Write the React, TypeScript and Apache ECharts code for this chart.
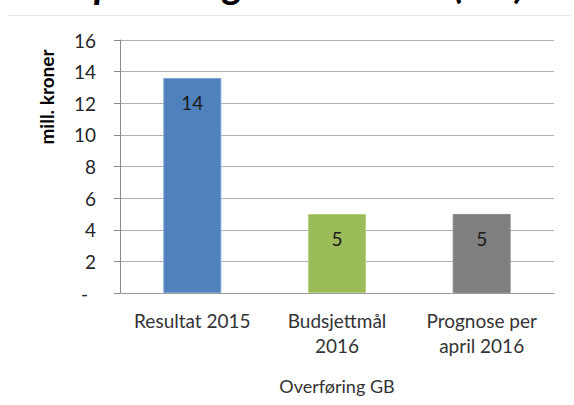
import React, { useEffect, useRef } from "react";
import * as echarts from "echarts";

const categories = ["Resultat 2015", "Budsjettmål\n2016", "Prognose per\napril 2016"];
const values = [13.6, 5, 5];
const barColors = ["#4F81BD", "#9BBB59", "#7F7F7F"];
const barBorders = ["#7FA3D3", "#B5D07E", "#8C8C8C"];
const yTicks = { min: 0, max: 16, interval: 2 };
const titleText = "Disponering i overskudd (GB)";
const yAxisTitle = "mill. kroner";
const xAxisTitle = "Overføring GB";

const FONT = "Lato, 'Open Sans', sans-serif";

export default function App() {
  const ref = useRef<HTMLDivElement>(null);
  useEffect(() => {
    if (!ref.current) return;
    document.body.style.margin = "0";
    const chart = echarts.init(ref.current, undefined, { renderer: "svg" });
    chart.setOption({
      animation: false,
      backgroundColor: "#ffffff",
      textStyle: { fontFamily: FONT },
      grid: { left: 120, right: 20, top: 40, bottom: 112, containLabel: false },
      graphic: [
        {
          type: "line",
          shape: { x1: 9, y1: 15.5, x2: 571, y2: 15.5 },
          style: { stroke: "#e4e4e4", lineWidth: 1 },
        },
        {
          type: "text",
          x: 40,
          y: -17,
          style: {
            text: titleText,
            font: `italic bold 40px ${FONT}`,
            fill: "#000000",
            textVerticalAlign: "middle",
          },
        },
        {
          type: "text",
          x: 46,
          y: 97,
          rotation: Math.PI / 2,
          style: {
            text: yAxisTitle,
            font: `bold 19px ${FONT}`,
            fill: "#000000",
            textAlign: "center",
            textVerticalAlign: "middle",
          },
        },
      ],
      xAxis: {
        type: "category",
        data: categories,
        name: xAxisTitle,
        nameLocation: "middle",
        nameGap: 84,
        nameTextStyle: { fontSize: 18, color: "#333333", fontFamily: FONT },
        axisLine: { lineStyle: { color: "#9a9a9a", width: 1 } },
        axisTick: { show: false },
        axisLabel: {
          interval: 0,
          fontSize: 19,
          color: "#333333",
          lineHeight: 25,
          margin: 15,
          fontFamily: FONT,
        },
      },
      yAxis: {
        type: "value",
        min: yTicks.min,
        max: yTicks.max,
        interval: yTicks.interval,
        axisLine: { show: true, lineStyle: { color: "#8a8a8a", width: 1 } },
        axisTick: { show: true, inside: false, length: 6, lineStyle: { color: "#8a8a8a" } },
        splitLine: { lineStyle: { color: "#b0b0b0", width: 1 } },
        axisLabel: {
          fontSize: 19,
          color: "#262626",
          margin: 24,
          fontFamily: FONT,
          formatter: (v: number) => (v === 0 ? "{d|-}" : String(v)),
          rich: { d: { fontSize: 19, color: "#262626", padding: [0, 8, 0, 0], fontFamily: FONT } },
        },
      },
      series: [
        {
          type: "bar",
          barWidth: 58,
          data: values.map((v, i) => ({
            value: v,
            itemStyle: { color: barColors[i], borderColor: barBorders[i], borderWidth: 1 },
          })),
          label: {
            show: true,
            position: "insideTop",
            distance: 15,
            fontSize: 19,
            color: "#1a1a1a",
            fontFamily: FONT,
            formatter: (p: any) => String(Math.round(p.value)),
          },
        },
      ],
    });
    return () => chart.dispose();
  }, []);
  return <div ref={ref} style={{ width: 574, height: 405 }} />;
}
